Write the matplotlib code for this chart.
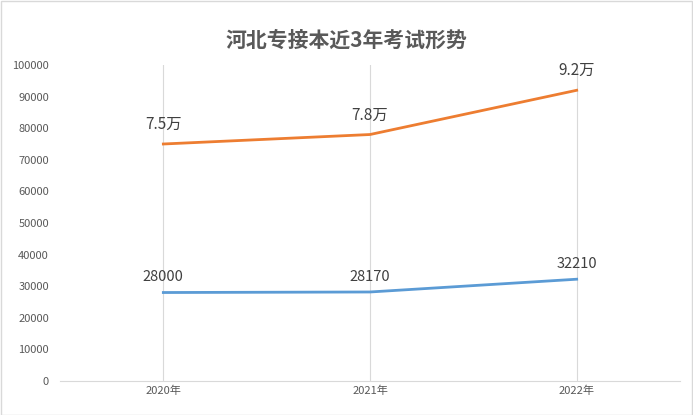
import matplotlib.pyplot as plt
from matplotlib import font_manager
from matplotlib.patches import Rectangle

# pick whichever CJK font is actually registered
cjk = [f.name for f in font_manager.fontManager.ttflist if "CJK" in f.name]
plt.rcParams["font.sans-serif"] = cjk + ["Noto Sans CJK SC", "DejaVu Sans"]
plt.rcParams["font.family"] = "sans-serif"

years = ["2020年", "2021年", "2022年"]
applicants = [75000, 78000, 92000]
applicant_labels = ["7.5万", "7.8万", "9.2万"]
admitted = [28000, 28170, 32210]
admitted_labels = ["28000", "28170", "32210"]

fig = plt.figure(figsize=(6.93, 4.15), dpi=100)
ax = fig.add_axes([60 / 693, 34 / 415, 620 / 693, 316 / 415])

x = range(len(years))
for i in x:
    ax.axvline(i, color="#d9d9d9", lw=0.8, zorder=0)

ax.plot(x, applicants, color="#ed7d31", lw=2)
ax.plot(x, admitted, color="#5b9bd5", lw=2)

for i, (v, lab) in enumerate(zip(applicants, applicant_labels)):
    ax.annotate(lab, (i, v), xytext=(0, 8), textcoords="offset points",
                ha="center", va="bottom", fontsize=11, color="#404040")
for i, (v, lab) in enumerate(zip(admitted, admitted_labels)):
    ax.annotate(lab, (i, v), xytext=(0, 6), textcoords="offset points",
                ha="center", va="bottom", fontsize=10.5, color="#404040")

ax.set_xlim(-0.5, 2.5)
ax.set_ylim(0, 100000)
ax.set_yticks(range(0, 100001, 10000))
ax.set_xticks(list(x))
ax.set_xticklabels(years)
ax.tick_params(axis="both", length=0, labelsize=8, colors="#595959")
ax.tick_params(axis="y", pad=8)
for s in ["top", "right", "left"]:
    ax.spines[s].set_visible(False)
ax.spines["bottom"].set_color("#d9d9d9")

fig.text(0.5, 1 - 40 / 415, "河北专接本近3年考试形势", ha="center", va="center",
         fontsize=15, fontweight="bold", color="#595959")
fig.patches.append(Rectangle((0.001, 0.001), 0.997, 0.997, transform=fig.transFigure,
                             fill=False, edgecolor="#d9d9d9", lw=1))

fig.savefig("out.png", dpi=100)
